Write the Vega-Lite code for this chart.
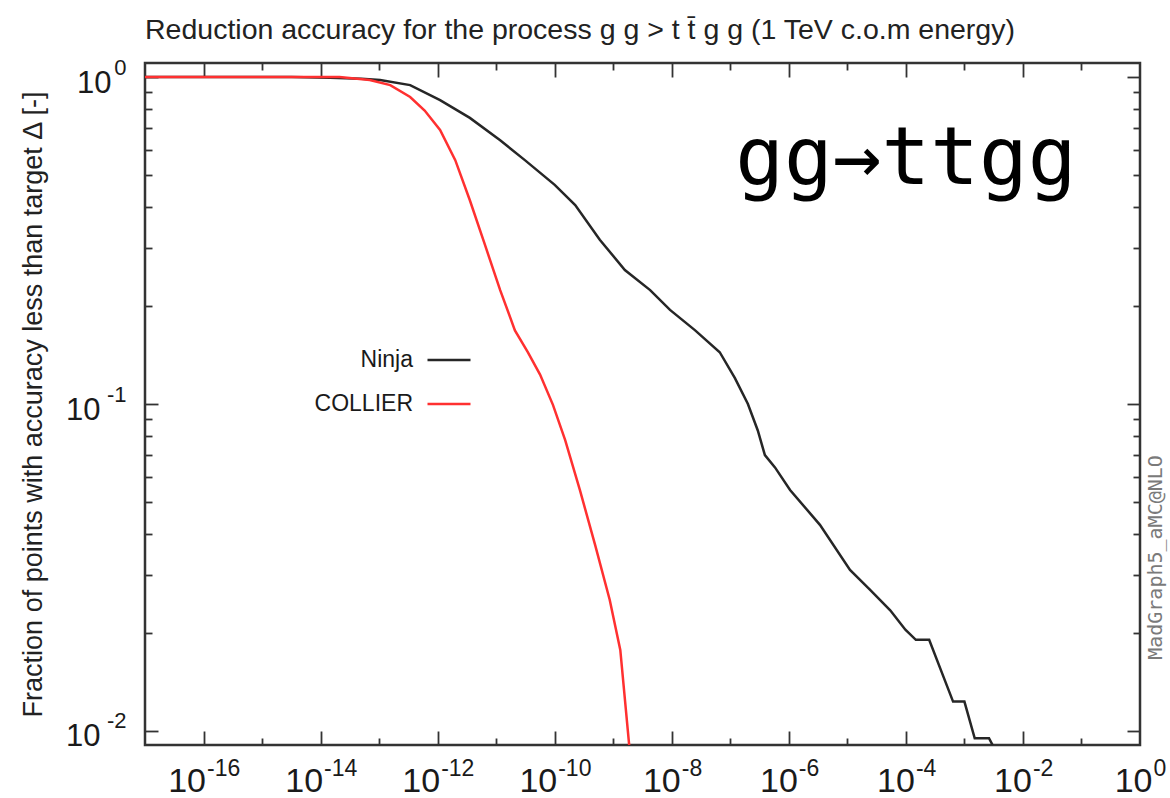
{
  "$schema": "https://vega.github.io/schema/vega-lite/v6.json",
  "autosize": {"type": "none"},
  "padding": {"left": 145, "top": 63, "right": 30, "bottom": 53},
  "width": 995,
  "height": 682,
  "background": "white",
  "config": {
    "view": {"stroke": "#333333", "strokeWidth": 2.5},
    "axis": {
      "grid": false,
      "domain": false,
      "labelFont": "Liberation Sans",
      "titleFont": "Liberation Sans",
      "titleFontWeight": "normal",
      "tickColor": "#333333",
      "tickWidth": 1.8,
      "labelColor": "#1a1a1a"
    }
  },
  "title": {
    "text": "Reduction accuracy for the process g g > t t\u0304 g g (1 TeV c.o.m energy)",
    "anchor": "start",
    "frame": "group",
    "baseline": "alphabetic",
    "offset": 25,
    "dy": 36,
    "font": "Liberation Sans",
    "fontSize": 28.5,
    "fontWeight": "normal",
    "color": "#222222"
  },
  "data": {
    "values": [
      {"code": "Ninja", "delta": 1e-17, "frac": 1.0},
      {"code": "Ninja", "delta": 3.2e-15, "frac": 1.0},
      {"code": "Ninja", "delta": 1.45e-14, "frac": 0.995},
      {"code": "Ninja", "delta": 5e-14, "frac": 0.988},
      {"code": "Ninja", "delta": 1.04e-13, "frac": 0.979},
      {"code": "Ninja", "delta": 3.39e-13, "frac": 0.945},
      {"code": "Ninja", "delta": 1.1e-12, "frac": 0.85},
      {"code": "Ninja", "delta": 3.55e-12, "frac": 0.75},
      {"code": "Ninja", "delta": 1.17e-11, "frac": 0.641},
      {"code": "Ninja", "delta": 3.09e-11, "frac": 0.557},
      {"code": "Ninja", "delta": 1.0e-10, "frac": 0.468},
      {"code": "Ninja", "delta": 2.24e-10, "frac": 0.406},
      {"code": "Ninja", "delta": 5.89e-10, "frac": 0.318},
      {"code": "Ninja", "delta": 1.58e-9, "frac": 0.257},
      {"code": "Ninja", "delta": 4.27e-9, "frac": 0.223},
      {"code": "Ninja", "delta": 9.33e-9, "frac": 0.194},
      {"code": "Ninja", "delta": 2.51e-8, "frac": 0.168},
      {"code": "Ninja", "delta": 6.6e-8, "frac": 0.144},
      {"code": "Ninja", "delta": 1.2e-7, "frac": 0.12},
      {"code": "Ninja", "delta": 2.0e-7, "frac": 0.1},
      {"code": "Ninja", "delta": 2.95e-7, "frac": 0.083},
      {"code": "Ninja", "delta": 3.9e-7, "frac": 0.0698},
      {"code": "Ninja", "delta": 5.8e-7, "frac": 0.064},
      {"code": "Ninja", "delta": 1.05e-6, "frac": 0.0546},
      {"code": "Ninja", "delta": 3.4e-6, "frac": 0.0427},
      {"code": "Ninja", "delta": 1.11e-5, "frac": 0.0311},
      {"code": "Ninja", "delta": 2.45e-5, "frac": 0.027},
      {"code": "Ninja", "delta": 5.4e-5, "frac": 0.0234},
      {"code": "Ninja", "delta": 9.8e-5, "frac": 0.0204},
      {"code": "Ninja", "delta": 1.48e-4, "frac": 0.019},
      {"code": "Ninja", "delta": 2.5e-4, "frac": 0.019},
      {"code": "Ninja", "delta": 6.4e-4, "frac": 0.0123},
      {"code": "Ninja", "delta": 1.0e-3, "frac": 0.0123},
      {"code": "Ninja", "delta": 1.5e-3, "frac": 0.0095},
      {"code": "Ninja", "delta": 2.63e-3, "frac": 0.0095},
      {"code": "Ninja", "delta": 3.3e-3, "frac": 0.0088},
      {"code": "COLLIER", "delta": 1e-17, "frac": 1.0},
      {"code": "COLLIER", "delta": 2.1e-14, "frac": 1.0},
      {"code": "COLLIER", "delta": 6.9e-14, "frac": 0.979},
      {"code": "COLLIER", "delta": 1.55e-13, "frac": 0.945},
      {"code": "COLLIER", "delta": 3.39e-13, "frac": 0.869},
      {"code": "COLLIER", "delta": 6.0e-13, "frac": 0.79},
      {"code": "COLLIER", "delta": 1.1e-12, "frac": 0.689},
      {"code": "COLLIER", "delta": 2.0e-12, "frac": 0.557},
      {"code": "COLLIER", "delta": 3.55e-12, "frac": 0.42},
      {"code": "COLLIER", "delta": 6.46e-12, "frac": 0.306},
      {"code": "COLLIER", "delta": 1.17e-11, "frac": 0.223},
      {"code": "COLLIER", "delta": 2.09e-11, "frac": 0.168},
      {"code": "COLLIER", "delta": 3.47e-11, "frac": 0.144},
      {"code": "COLLIER", "delta": 5.62e-11, "frac": 0.123},
      {"code": "COLLIER", "delta": 9.33e-11, "frac": 0.0994},
      {"code": "COLLIER", "delta": 1.51e-10, "frac": 0.0776},
      {"code": "COLLIER", "delta": 2.69e-10, "frac": 0.0546},
      {"code": "COLLIER", "delta": 4.9e-10, "frac": 0.0371},
      {"code": "COLLIER", "delta": 8.7e-10, "frac": 0.0252},
      {"code": "COLLIER", "delta": 1.32e-9, "frac": 0.0177},
      {"code": "COLLIER", "delta": 1.9e-9, "frac": 0.0088}
    ]
  },
  "layer": [
    {
      "mark": {"type": "line", "strokeWidth": 2.5, "clip": true},
      "encoding": {
        "x": {
          "field": "delta", "type": "quantitative",
          "scale": {"type": "log", "domain": [1e-17, 1], "nice": false},
          "axis": {
            "orient": "bottom", "title": null, "ticks": false,
            "values": [1e-16, 1e-14, 1e-12, 1e-10, 1e-8, 1e-6, 1e-4, 1e-2, 1],
            "labelExpr": "'10'",
            "labelFontSize": 34, "labelAlign": "right", "labelBaseline": "alphabetic",
            "labelPadding": 46, "labelFlush": false, "labelOverlap": false,
            "labelOffset": {"condition": [{"test": "datum.value < 1e-9", "value": 2}, {"test": "datum.value > 0.5", "value": 12}], "value": 8.5}
          }
        },
        "y": {
          "field": "frac", "type": "quantitative",
          "scale": {"type": "log", "domain": [0.00906, 1.104], "nice": false},
          "axis": {
            "orient": "left", "ticks": false,
            "values": [0.01, 0.1, 1],
            "labelExpr": "'10'",
            "labelFontSize": 31, "labelAlign": "right", "labelBaseline": "alphabetic",
            "labelOffset": 15, "labelFlush": false, "labelOverlap": false,
            "labelPadding": {"condition": {"test": "datum.value > 0.5", "value": 34}, "value": 45},
            "title": "Fraction of points with accuracy less than target \u0394 [-]",
            "titleFontSize": 27, "titleColor": "#222222",
            "titleAngle": 270, "titleX": -112, "titleY": 341,
            "titleAlign": "center", "titleBaseline": "middle"
          }
        },
        "color": {
          "field": "code", "type": "nominal",
          "scale": {"domain": ["Ninja", "COLLIER"], "range": ["#262626", "#ff3030"]},
          "legend": {
            "orient": "none", "legendX": 281, "legendY": 274,
            "title": null, "padding": 0,
            "symbolType": "stroke", "symbolSize": 1849, "symbolStrokeWidth": 2.5,
            "labelFont": "Liberation Sans", "labelFontSize": 23, "labelColor": "#1a1a1a",
            "labelAlign": "right", "labelOffset": -59, "rowPadding": 9
          }
        }
      }
    },
    {
      "mark": {"type": "line", "opacity": 0},
      "encoding": {
        "detail": {"field": "code"},
        "x": {
          "field": "delta", "type": "quantitative",
          "scale": {"type": "log", "domain": [1e-17, 1], "nice": false},
          "axis": {
            "orient": "bottom", "title": null, "ticks": false,
            "values": [1e-16, 1e-14, 1e-12, 1e-10, 1e-8, 1e-6, 1e-4, 1e-2, 1],
            "labelExpr": "'' + round(log(datum.value) / LN10)",
            "labelFontSize": 23, "labelAlign": "left", "labelBaseline": "alphabetic",
            "labelPadding": 30, "labelFlush": false, "labelOverlap": false,
            "labelOffset": {"condition": [{"test": "datum.value < 1e-9", "value": 3}, {"test": "datum.value > 0.5", "value": 13}], "value": 9.5}
          }
        },
        "y": {
          "field": "frac", "type": "quantitative",
          "scale": {"type": "log", "domain": [0.00906, 1.104], "nice": false},
          "axis": {
            "orient": "left", "title": null, "ticks": false,
            "values": [0.01, 0.1, 1],
            "labelExpr": "'' + round(log(datum.value) / LN10)",
            "labelFontSize": 22, "labelAlign": "right", "labelBaseline": "alphabetic",
            "labelOffset": -3, "labelPadding": 19, "labelFlush": false, "labelOverlap": false
          }
        }
      }
    },
    {
      "mark": {"type": "line", "opacity": 0},
      "encoding": {
        "detail": {"field": "code"},
        "x": {
          "field": "delta", "type": "quantitative",
          "scale": {"type": "log", "domain": [1e-17, 1], "nice": false},
          "axis": {
            "orient": "bottom", "title": null, "labels": false,
            "values": [1e-16, 1e-14, 1e-12, 1e-10, 1e-8, 1e-6, 1e-4, 1e-2],
            "tickSize": -14
          }
        },
        "y": {
          "field": "frac", "type": "quantitative",
          "scale": {"type": "log", "domain": [0.00906, 1.104], "nice": false},
          "axis": {
            "orient": "left", "title": null, "labels": false,
            "values": [0.01, 0.1, 1],
            "tickSize": -13
          }
        }
      }
    },
    {
      "mark": {"type": "line", "opacity": 0},
      "encoding": {
        "detail": {"field": "code"},
        "x": {
          "field": "delta", "type": "quantitative",
          "scale": {"type": "log", "domain": [1e-17, 1], "nice": false},
          "axis": {
            "orient": "bottom", "title": null, "labels": false,
            "values": [1e-15, 1e-13, 1e-11, 1e-9, 1e-7, 1e-5, 1e-3, 1e-1],
            "tickSize": -7
          }
        },
        "y": {
          "field": "frac", "type": "quantitative",
          "scale": {"type": "log", "domain": [0.00906, 1.104], "nice": false},
          "axis": {
            "orient": "left", "title": null, "labels": false,
            "values": [0.02, 0.03, 0.04, 0.05, 0.06, 0.07, 0.08, 0.09, 0.2, 0.3, 0.4, 0.5, 0.6, 0.7, 0.8, 0.9],
            "tickSize": -7
          }
        }
      }
    },
    {
      "mark": {"type": "line", "opacity": 0},
      "encoding": {
        "detail": {"field": "code"},
        "x": {
          "field": "delta", "type": "quantitative",
          "scale": {"type": "log", "domain": [1e-17, 1], "nice": false},
          "axis": {
            "orient": "top", "title": null, "labels": false,
            "values": [1e-16, 1e-14, 1e-12, 1e-10, 1e-8, 1e-6, 1e-4, 1e-2],
            "tickSize": -14
          }
        },
        "y": {
          "field": "frac", "type": "quantitative",
          "scale": {"type": "log", "domain": [0.00906, 1.104], "nice": false},
          "axis": {
            "orient": "right", "labels": false,
            "values": [0.01, 0.1, 1],
            "tickSize": -13,
            "title": "MadGraph5_aMC@NLO",
            "titleFont": "DejaVu Sans Mono", "titleFontSize": 20, "titleColor": "#7a7a7a",
            "titleAngle": 270, "titleX": 15, "titleY": 494,
            "titleAlign": "center", "titleBaseline": "middle"
          }
        }
      }
    },
    {
      "mark": {"type": "line", "opacity": 0},
      "encoding": {
        "detail": {"field": "code"},
        "x": {
          "field": "delta", "type": "quantitative",
          "scale": {"type": "log", "domain": [1e-17, 1], "nice": false},
          "axis": {
            "orient": "top", "title": null, "labels": false,
            "values": [1e-15, 1e-13, 1e-11, 1e-9, 1e-7, 1e-5, 1e-3, 1e-1],
            "tickSize": -7
          }
        },
        "y": {
          "field": "frac", "type": "quantitative",
          "scale": {"type": "log", "domain": [0.00906, 1.104], "nice": false},
          "axis": {
            "orient": "right", "title": null, "labels": false,
            "values": [0.02, 0.03, 0.04, 0.05, 0.06, 0.07, 0.08, 0.09, 0.2, 0.3, 0.4, 0.5, 0.6, 0.7, 0.8, 0.9],
            "tickSize": -7
          }
        }
      }
    },
    {
      "data": {"values": [{"note": "gg\u2192ttgg"}]},
      "mark": {"type": "text", "font": "DejaVu Sans Mono", "fontSize": 81, "align": "center", "baseline": "alphabetic", "color": "#000000"},
      "encoding": {
        "text": {"field": "note"},
        "x": {"datum": 1e-4, "type": "quantitative", "axis": null},
        "y": {"datum": 0.47, "type": "quantitative", "axis": null}
      }
    }
  ],
  "resolve": {"axis": {"x": "independent", "y": "independent"}}
}
